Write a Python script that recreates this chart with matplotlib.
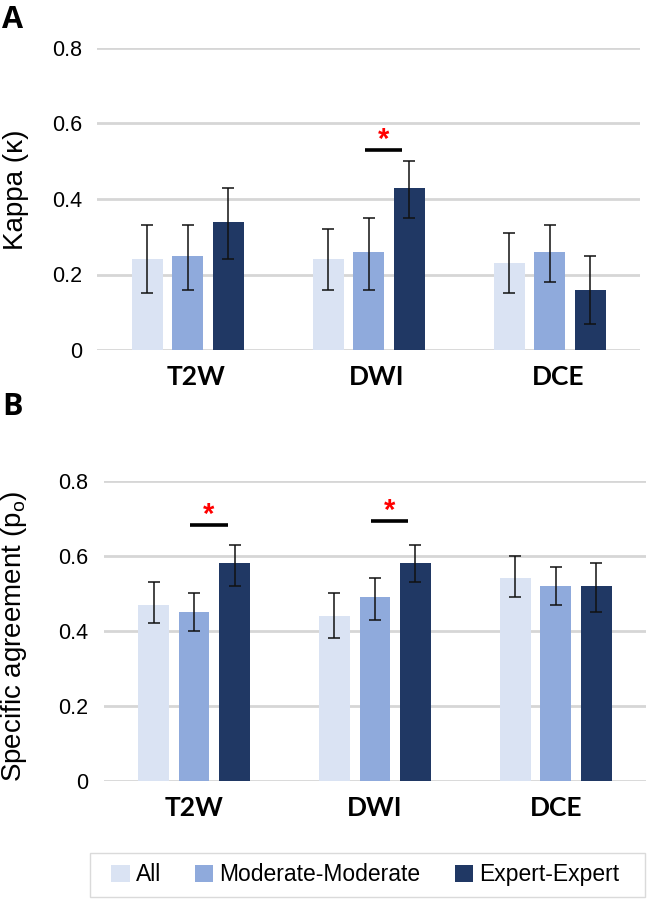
import numpy as np
import matplotlib
matplotlib.use("Agg")
import matplotlib.pyplot as plt
from matplotlib.patches import Rectangle
from matplotlib.transforms import ScaledTranslation

plt.rcParams['font.family'] = ['Liberation Sans', 'DejaVu Sans']
plt.rcParams['mathtext.default'] = 'regular'

categories = ['T2W', 'DWI', 'DCE']
groups = ['All', 'Moderate-Moderate', 'Expert-Expert']
colors = ['#DAE3F3', '#8FAADC', '#203864']

# Panel A: kappa, mean and error bar ends (low, high) per group
kappa = {
    'All':               [0.24, 0.24, 0.23],
    'Moderate-Moderate': [0.25, 0.26, 0.26],
    'Expert-Expert':     [0.34, 0.43, 0.16],
}
kappa_lo = {
    'All':               [0.15, 0.16, 0.15],
    'Moderate-Moderate': [0.16, 0.16, 0.18],
    'Expert-Expert':     [0.24, 0.35, 0.07],
}
kappa_hi = {
    'All':               [0.33, 0.32, 0.31],
    'Moderate-Moderate': [0.33, 0.35, 0.33],
    'Expert-Expert':     [0.43, 0.50, 0.25],
}

# Panel B: specific agreement
agree = {
    'All':               [0.47, 0.44, 0.54],
    'Moderate-Moderate': [0.45, 0.49, 0.52],
    'Expert-Expert':     [0.58, 0.58, 0.52],
}
agree_lo = {
    'All':               [0.42, 0.38, 0.49],
    'Moderate-Moderate': [0.40, 0.43, 0.47],
    'Expert-Expert':     [0.52, 0.53, 0.45],
}
agree_hi = {
    'All':               [0.53, 0.50, 0.60],
    'Moderate-Moderate': [0.50, 0.54, 0.57],
    'Expert-Expert':     [0.63, 0.63, 0.58],
}

# significance markers: (category index, bar height, star height)
sig_a = [(1, 0.53, 0.555)]
sig_b = [(0, 0.683, 0.71), (1, 0.693, 0.72)]


def panel(ax, vals, lo, hi, sigs, ylabel):
    x = np.arange(len(categories))
    width = 0.17
    step = 0.224
    for k, g in enumerate(groups):
        pos = x + (k - 1) * step
        v = np.array(vals[g])
        yerr = [v - np.array(lo[g]), np.array(hi[g]) - v]
        ax.bar(pos, v, width, color=colors[k], label=g, zorder=2)
        ax.errorbar(pos, v, yerr=yerr, fmt='none', ecolor='#111111',
                    elinewidth=1.1, capsize=4.5, capthick=1.1, zorder=3)
    for i, yb, ys in sigs:
        ax.plot([i - 0.02, i + 0.185], [yb, yb], color='black', lw=2.6,
                solid_capstyle='butt', zorder=3)
        ax.text(i + 0.08, ys, '*', color='red', fontsize=21,
                ha='center', va='center', fontweight='bold')
    ax.set_xlim(-0.5, 2.5)
    ax.set_ylim(0, 0.8)
    ax.set_yticks([0, 0.2, 0.4, 0.6, 0.8])
    ax.set_yticklabels(['0', '0.2', '0.4', '0.6', '0.8'])
    ax.yaxis.grid(True, color='#D6D6D6', lw=2)
    ax.set_axisbelow(True)
    for s in ax.spines.values():
        s.set_visible(False)
    ax.tick_params(axis='y', length=0, labelsize=15.5, pad=11)
    ax.tick_params(axis='x', length=0, pad=11)
    ax.set_xticks(x)
    ax.set_xticklabels(categories, fontsize=19, fontweight='bold',
                       family=['Lato', 'DejaVu Sans'])
    ax.set_ylabel(ylabel, fontsize=20)


fig = plt.figure(figsize=(6.48, 9), dpi=100)

ax1 = fig.add_axes([0.150, 0.611, 0.838, 0.336])
panel(ax1, kappa, kappa_lo, kappa_hi, sig_a, 'Kappa (\u03ba)')
ax1.yaxis.set_label_coords(-0.125, 0.53)
# category labels in panel A sit a little right of the group centres
for lab in ax1.get_xticklabels():
    lab.set_transform(lab.get_transform() +
                      ScaledTranslation(0.08, 0, fig.dpi_scale_trans))

ax2 = fig.add_axes([0.160, 0.1326, 0.837, 0.333])
panel(ax2, agree, agree_lo, agree_hi, sig_b, 'Specific agreement (p$_{o}$)')
ax2.yaxis.set_label_coords(-0.137, 0.483)

fig.text(0.003, 0.995, 'A', fontsize=22, fontweight='bold', va='top',
         family=['Open Sans', 'DejaVu Sans'])
fig.text(0.003, 0.565, 'B', fontsize=22, fontweight='bold', va='top',
         family=['Open Sans', 'DejaVu Sans'])

# legend box drawn separately so it can be wider than its entries
fig.patches.append(Rectangle((0.139, 0.0035), 0.857, 0.0485,
                             transform=fig.transFigure, facecolor='white',
                             edgecolor='#DADADA', lw=1, zorder=0))
handles, labels = ax1.get_legend_handles_labels()
leg = fig.legend(handles, labels, ncol=3, loc='center',
                 bbox_to_anchor=(0.5635, 0.0278), fontsize=16.5,
                 frameon=False, handlelength=0.8, handleheight=0.8,
                 handletextpad=0.25, columnspacing=1.5, borderaxespad=0)

fig.savefig('out.png', dpi=100)
